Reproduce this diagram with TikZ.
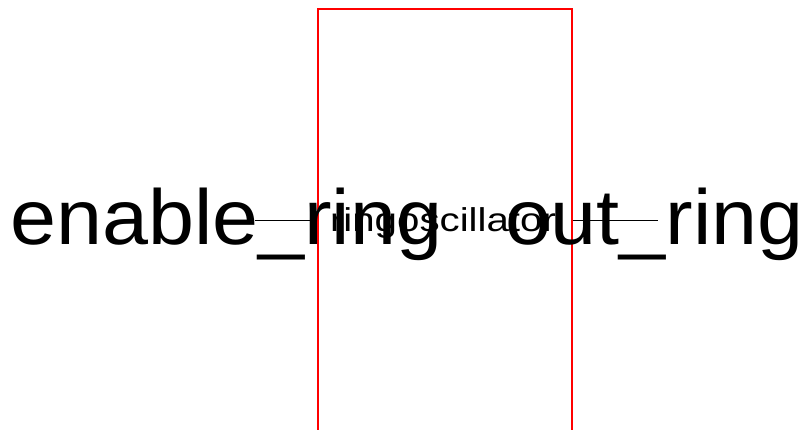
\documentclass[tikz,border=0pt]{standalone}
\usepackage{fontspec}
\usepackage{graphicx}
\setmainfont{Liberation Sans}
\tikzset{
  blockbox/.style={draw=red, line width=1.5pt, rectangle, inner sep=0pt, minimum width=254pt, minimum height=424pt},
  bigport/.style={inner sep=0pt, font=\fontsize{78}{80}\selectfont},
  smalllabel/.style={inner sep=0pt, font=\fontsize{33}{36}\selectfont},
  wire/.style={draw=black, line width=0.9pt}
}
\begin{document}
\begin{tikzpicture}[x=1pt,y=1pt]
  \useasboundingbox (0,0) rectangle (808,430);
  \clip (0,0) rectangle (808,430);
  \node[blockbox] (box) at (445,209) {};
  \node[smalllabel, anchor=base] (lbl) at (443,198) {\scalebox{1.22}[1]{ringoscillator}};
  \coordinate (inL) at (255,210);
  \coordinate (outR) at (658,210);
  \draw[wire] (inL) -- (inL -| box.west);
  \draw[wire] (outR -| box.east) -- (outR);
  \node[bigport, anchor=base west] (en) at (10,185) {\scalebox{1.06}[1]{enable\_ring}};
  \node[bigport, anchor=base east] (out) at (804,185) {\scalebox{1.06}[1]{out\_ring}};
\end{tikzpicture}
\end{document}
